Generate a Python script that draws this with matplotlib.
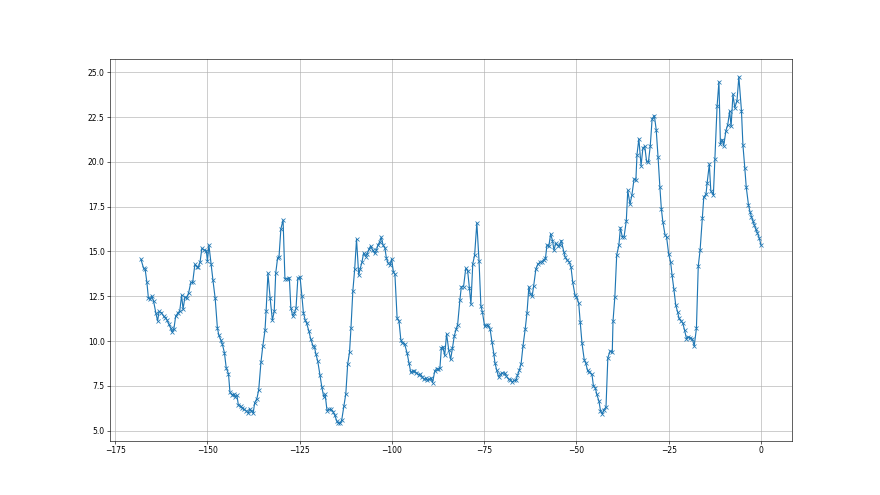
import matplotlib
matplotlib.use("Agg")
import matplotlib.pyplot as plt

# time offset (x) and value (y)
x_vals = [
    -168.0, -167.3, -166.9, -166.4, -166.0, -165.5, -165.1, -164.6, -164.0, -163.5,
    -163.1, -162.5, -161.9, -161.4, -160.9, -160.5, -160.0, -159.6, -159.1, -158.6,
    -157.9, -157.5, -157.0, -156.6, -156.1, -155.6, -155.1, -154.5, -154.0, -153.4,
    -152.9, -152.5, -152.0, -151.5, -150.9, -150.3, -150.0, -149.6, -149.0, -148.5,
    -147.9, -147.3, -146.9, -146.4, -146.0, -145.4, -144.9, -144.3, -143.9, -143.4,
    -142.9, -142.4, -142.0, -141.6, -141.0, -140.6, -140.0, -139.5, -138.9, -138.6,
    -138.1, -137.6, -137.2, -136.6, -136.1, -135.5, -135.0, -134.4, -134.1, -133.6,
    -133.0, -132.4, -131.9, -131.5, -131.0, -130.6, -130.1, -129.5, -129.0, -128.4,
    -127.8, -127.4, -126.9, -126.5, -126.0, -125.5, -124.9, -124.4, -124.0, -123.5,
    -123.1, -122.5, -122.0, -121.4, -121.0, -120.6, -120.1, -119.5, -119.0, -118.5,
    -118.1, -117.6, -117.1, -116.5, -116.0, -115.5, -115.0, -114.5, -114.0, -113.6,
    -113.0, -112.5, -112.0, -111.5, -111.1, -110.6, -110.1, -109.6, -109.0, -108.6,
    -108.1, -107.7, -107.1, -106.7, -106.2, -105.8, -105.2, -104.7, -104.2, -103.8,
    -103.3, -102.9, -102.4, -101.9, -101.5, -101.0, -100.5, -100.1, -99.6, -99.2,
    -98.6, -98.1, -97.6, -97.2, -96.6, -95.9, -95.4, -94.9, -94.4, -93.9,
    -93.4, -92.8, -92.3, -91.8, -91.3, -90.9, -90.4, -89.9, -89.4, -89.0,
    -88.4, -87.9, -87.4, -87.0, -86.6, -86.2, -85.7, -85.2, -84.6, -84.1,
    -83.6, -83.1, -82.6, -82.2, -81.6, -81.2, -80.6, -80.0, -79.5, -79.0,
    -78.6, -78.1, -77.6, -77.0, -76.4, -75.9, -75.5, -74.9, -74.4, -74.0,
    -73.4, -72.9, -72.4, -72.1, -71.6, -71.1, -70.6, -70.1, -69.5, -69.0,
    -68.4, -67.9, -67.5, -66.9, -66.4, -66.0, -65.5, -65.0, -64.5, -63.9,
    -63.4, -62.9, -62.5, -62.0, -61.6, -61.0, -60.5, -59.9, -59.4, -58.9,
    -58.4, -58.0, -57.5, -57.0, -56.5, -56.1, -55.6, -55.1, -54.6, -54.1,
    -53.4, -53.1, -52.6, -52.0, -51.5, -51.0, -50.4, -50.0, -49.4, -49.0,
    -48.5, -47.9, -47.5, -47.0, -46.6, -45.8, -45.4, -44.9, -44.5, -43.9,
    -43.5, -43.0, -42.6, -42.0, -41.5, -40.9, -40.3, -40.1, -39.6, -39.1,
    -38.5, -38.1, -37.6, -37.1, -36.5, -36.1, -35.5, -35.0, -34.4, -33.9,
    -33.6, -33.1, -32.5, -32.0, -31.5, -31.0, -30.5, -30.0, -29.5, -28.9,
    -28.4, -27.9, -27.4, -27.0, -26.6, -26.0, -25.6, -25.0, -24.5, -24.1,
    -23.6, -23.1, -22.6, -22.2, -21.7, -21.2, -20.7, -20.2, -19.7, -19.2,
    -18.6, -18.1, -17.5, -17.0, -16.5, -15.9, -15.5, -14.9, -14.6, -14.0,
    -13.6, -12.9, -12.5, -11.9, -11.4, -11.0, -10.5, -10.1, -9.5, -9.0,
    -8.5, -8.1, -7.6, -7.1, -6.5, -6.0, -5.3, -4.9, -4.4, -4.0,
    -3.4, -3.0, -2.6, -2.2, -1.8, -1.4, -1.0, -0.5, 0.0,
]
y_vals = [
    14.56, 14.06, 14.04, 13.27, 12.41, 12.34, 12.52, 12.24, 11.59, 11.12,
    11.65, 11.59, 11.40, 11.31, 11.16, 10.96, 10.75, 10.51, 10.66, 11.39,
    11.59, 11.68, 12.55, 11.78, 12.45, 12.41, 12.69, 13.27, 13.27, 14.28,
    14.15, 14.11, 14.41, 15.18, 15.08, 15.05, 14.47, 15.36, 14.28, 13.39,
    12.38, 10.73, 10.32, 10.08, 9.86, 9.35, 8.49, 8.18, 7.15, 7.00,
    7.02, 6.87, 6.96, 6.40, 6.36, 6.25, 6.18, 6.10, 5.97, 6.22,
    6.10, 5.97, 6.55, 6.78, 7.28, 8.81, 9.71, 10.60, 11.67, 13.78,
    12.38, 11.16, 11.67, 13.78, 14.62, 14.71, 16.26, 16.76, 13.48, 13.48,
    13.53, 11.87, 11.40, 11.54, 11.82, 13.50, 13.57, 12.51, 11.59, 11.16,
    10.98, 10.55, 10.10, 9.74, 9.67, 9.26, 8.87, 8.08, 7.43, 6.90,
    7.02, 6.12, 6.18, 6.18, 6.06, 5.86, 5.56, 5.41, 5.41, 5.60,
    6.38, 7.06, 8.70, 9.37, 10.75, 12.79, 14.00, 15.68, 13.68, 14.04,
    14.43, 14.90, 14.71, 14.88, 15.14, 15.31, 15.07, 14.90, 15.08, 15.36,
    15.55, 15.80, 15.36, 15.18, 14.62, 14.34, 14.24, 14.58, 13.85, 13.74,
    11.26, 11.12, 10.08, 9.89, 9.86, 9.33, 8.79, 8.25, 8.32, 8.32,
    8.23, 8.12, 8.14, 7.99, 7.86, 7.93, 7.80, 7.86, 7.93, 7.67,
    8.32, 8.46, 8.42, 8.51, 9.63, 9.67, 9.20, 10.40, 9.48, 8.98,
    9.61, 10.30, 10.66, 10.92, 12.27, 13.03, 13.03, 14.06, 13.93, 12.94,
    12.06, 14.32, 14.79, 16.60, 14.45, 11.96, 11.63, 10.83, 10.88, 10.90,
    10.66, 9.95, 9.30, 8.79, 8.36, 7.99, 8.14, 8.21, 8.21, 8.03,
    7.87, 7.84, 7.71, 7.80, 7.80, 8.08, 8.36, 8.74, 9.71, 10.66,
    11.59, 13.03, 12.62, 12.51, 13.08, 14.02, 14.28, 14.39, 14.43, 14.52,
    14.62, 15.36, 15.29, 15.98, 15.61, 15.08, 15.46, 15.33, 15.36, 15.61,
    14.95, 14.71, 14.52, 14.43, 14.15, 13.27, 12.56, 12.45, 12.13, 11.09,
    9.87, 8.96, 8.77, 8.36, 8.25, 8.14, 7.48, 7.39, 7.02, 6.64,
    6.12, 5.93, 6.16, 6.31, 9.07, 9.43, 9.39, 11.11, 12.47, 14.80,
    15.36, 16.33, 15.83, 15.83, 16.71, 18.41, 17.64, 18.13, 19.04, 19.01,
    20.41, 21.29, 19.79, 20.78, 20.87, 20.03, 20.00, 20.91, 22.41, 22.59,
    21.81, 20.28, 18.60, 17.38, 16.67, 15.92, 15.83, 14.84, 14.43, 13.68,
    12.88, 12.00, 11.63, 11.26, 11.12, 11.01, 10.60, 10.14, 10.23, 10.19,
    10.11, 9.72, 10.70, 14.19, 15.08, 16.86, 18.04, 18.20, 18.82, 19.88,
    18.39, 18.17, 20.18, 23.11, 24.48, 21.01, 21.25, 20.91, 21.75, 22.09,
    22.83, 21.99, 23.77, 23.02, 23.43, 24.76, 22.87, 20.95, 19.69, 18.60,
    17.61, 17.23, 16.95, 16.71, 16.48, 16.24, 16.05, 15.77, 15.36,
]

fig = plt.figure(figsize=(16, 9), dpi=55)
ax = fig.add_subplot(111)
ax.plot(x_vals, y_vals, marker="x")
ax.grid(True)

fig.savefig("out.png", dpi=55)
